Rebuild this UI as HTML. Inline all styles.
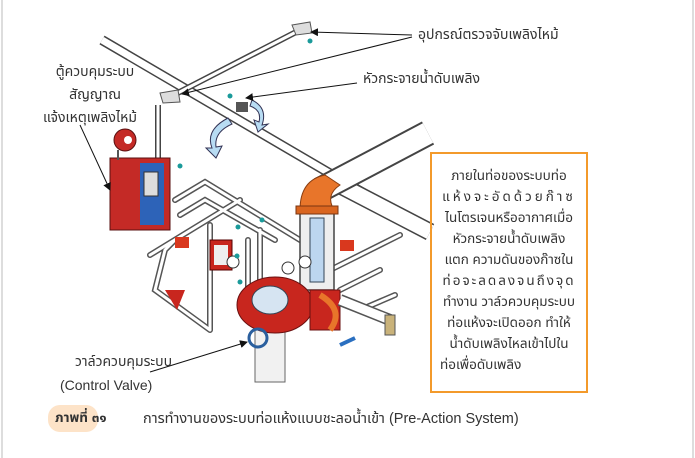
<!DOCTYPE html>
<html><head><meta charset="utf-8"><style>
html,body{margin:0;padding:0;background:#fff}
body{width:695px;height:458px;position:relative;overflow:hidden;font-family:"Liberation Sans","Noto Sans Thai","Loma","Garuda","Norasi","Noto Sans CJK SC",sans-serif}
.t{position:absolute;color:#333;font-size:14px;white-space:nowrap;line-height:1}
.box{position:absolute;left:430px;top:152px;width:158px;height:241px;border:2px solid #f39a2b;box-sizing:border-box}
.box div{position:absolute;left:0;width:154px;text-align:center;font-size:13.5px;color:#333;white-space:nowrap}
</style></head><body>
<div style="position:absolute;left:1px;top:0;width:2px;height:458px;background:#ddd"></div>
<div style="position:absolute;left:692px;top:0;width:2px;height:458px;background:#ddd"></div>
<svg width="695" height="458" style="position:absolute;left:0;top:0">
<defs><marker id="a" markerWidth="8" markerHeight="8" refX="7" refY="4" orient="auto"><path d="M0,0 L8,4 L0,8z" fill="#111"/></marker></defs>
<g fill="none">
<line x1="102" y1="40" x2="430" y2="232" stroke="#444" stroke-width="10" stroke-linecap="butt"/>
<line x1="102" y1="40" x2="430" y2="232" stroke="#fff" stroke-width="7"/>
<line x1="330" y1="180" x2="430" y2="232" stroke="#444" stroke-width="18"/>
<line x1="330" y1="180" x2="430" y2="232" stroke="#fff" stroke-width="15"/>
<line x1="168" y1="98" x2="300" y2="30" stroke="#444" stroke-width="6" stroke-linecap="round"/>
<line x1="168" y1="98" x2="300" y2="30" stroke="#fff" stroke-width="3"/>
<line x1="158" y1="105" x2="158" y2="165" stroke="#444" stroke-width="6"/>
<line x1="158" y1="105" x2="158" y2="165" stroke="#fff" stroke-width="3"/>
<line x1="320" y1="190" x2="428" y2="133" stroke="#444" stroke-width="26"/>
<line x1="320" y1="190" x2="428" y2="133" stroke="#fff" stroke-width="22"/>
<path d="M175,200 L205,182 L300,240 M180,215 L205,200 L275,240 M175,240 L165,250 L155,290 L210,330 M150,255 L240,200 M210,225 L210,330 M248,240 L248,290 M260,230 L260,290 M330,270 L400,235 M340,290 L380,270 M360,310 L395,295" stroke="#555" stroke-width="6" stroke-linecap="round"/>
<path d="M175,200 L205,182 L300,240 M180,215 L205,200 L275,240 M175,240 L165,250 L155,290 L210,330 M150,255 L240,200 M210,225 L210,330 M248,240 L248,290 M260,230 L260,290 M330,270 L400,235 M340,290 L380,270 M360,310 L395,295" stroke="#fff" stroke-width="3" stroke-linecap="round"/>
</g>
<rect x="300" y="210" width="34" height="80" fill="#eee" stroke="#444" stroke-width="1.5"/>
<rect x="310" y="218" width="14" height="64" fill="#bcd6ef" stroke="#345" stroke-width="1"/>
<path d="M300,210 Q300,180 325,175 L340,185 Q325,195 334,210 z" fill="#e8752a" stroke="#8a3d10"/>
<rect x="296" y="206" width="42" height="8" fill="#d9651f" stroke="#7a3510"/>
<rect x="255" y="330" width="30" height="52" fill="#f1f1f1" stroke="#666"/>
<ellipse cx="275" cy="305" rx="38" ry="28" fill="#c8261e" stroke="#6a1010"/>
<ellipse cx="270" cy="300" rx="18" ry="14" fill="#d6e4f2" stroke="#345"/>
<rect x="310" y="290" width="30" height="40" fill="#c8261e" stroke="#6a1010"/>
<path d="M320,295 Q345,310 330,330" stroke="#e8752a" stroke-width="6" fill="none"/>
<circle cx="258" cy="338" r="9" fill="none" stroke="#2a5f9e" stroke-width="3"/>
<line x1="340" y1="300" x2="390" y2="320" stroke="#555" stroke-width="12"/>
<line x1="340" y1="300" x2="390" y2="320" stroke="#fff" stroke-width="9"/>
<rect x="385" y="315" width="10" height="20" fill="#c9b27a" stroke="#555"/>
<line x1="340" y1="345" x2="355" y2="338" stroke="#2a6fc0" stroke-width="4"/>
<rect x="210" y="240" width="22" height="30" fill="#c8261e" stroke="#500"/>
<rect x="214" y="245" width="14" height="20" fill="#eee"/>
<rect x="175" y="237" width="14" height="11" fill="#d9381e"/>
<rect x="340" y="240" width="14" height="11" fill="#d9381e"/>
<path d="M165,290 L185,290 L177,310 z" fill="#c8261e"/>
<circle cx="233" cy="262" r="6" fill="#fff" stroke="#333"/>
<circle cx="288" cy="268" r="6" fill="#fff" stroke="#333"/>
<circle cx="305" cy="262" r="6" fill="#fff" stroke="#333"/>
<rect x="110" y="158" width="60" height="72" fill="#c42a26" stroke="#5a1010"/>
<rect x="140" y="163" width="24" height="62" fill="#2d63b8"/>
<rect x="144" y="172" width="14" height="24" fill="#ddd" stroke="#333"/>
<circle cx="125" cy="140" r="11" fill="#c42a26" stroke="#5a1010"/>
<circle cx="128" cy="140" r="4" fill="#fff"/>
<line x1="118" y1="150" x2="118" y2="160" stroke="#555" stroke-width="2"/>
<path d="M292,25 L310,22 L312,33 L296,35 z" fill="#ddd" stroke="#555"/>
<path d="M160,93 L178,90 L180,102 L163,103 z" fill="#ddd" stroke="#555"/>
<rect x="236" y="102" width="12" height="10" fill="#555"/>
<path d="M228,118 Q205,130 212,148 L206,148 L216,158 L222,146 L216,147 Q214,132 232,124 z" fill="#b8dcf3" stroke="#335"/>
<path d="M252,100 Q268,108 262,125 L268,124 L258,132 L254,120 L259,122 Q262,110 250,106 z" fill="#b8dcf3" stroke="#335"/>
<g fill="#1a9a9a"><circle cx="310" cy="41" r="2.5"/><circle cx="230" cy="96" r="2.5"/><circle cx="180" cy="166" r="2.5"/><circle cx="238" cy="227" r="2.5"/><circle cx="262" cy="220" r="2.5"/><circle cx="240" cy="282" r="2.5"/><circle cx="237" cy="256" r="2.5"/></g>
<g stroke="#111" stroke-width="1" fill="none">
<line x1="412" y1="35" x2="311" y2="32" marker-end="url(#a)"/>
<line x1="412" y1="37" x2="182" y2="94" marker-end="url(#a)"/>
<line x1="357" y1="83" x2="246" y2="98" marker-end="url(#a)"/>
<line x1="80" y1="125" x2="110" y2="190" marker-end="url(#a)"/>
<line x1="150" y1="372" x2="247" y2="342" marker-end="url(#a)"/>
</g>
</svg>
<div class="t" style="left:418px;top:27px">อุปกรณ์ตรวจจับเพลิงไหม้</div>
<div class="t" style="left:363px;top:71px">หัวกระจายน้ำดับเพลิง</div>
<div class="t" style="left:43px;top:64px;width:104px;text-align:center">ตู้ควบคุมระบบ</div>
<div class="t" style="left:43px;top:87px;width:104px;text-align:center">สัญญาณ</div>
<div class="t" style="left:43px;top:110px">แจ้งเหตุเพลิงไหม้</div>
<div class="t" style="left:75px;top:354px">วาล์วควบคุมระบบ</div>
<div class="t" style="left:60px;top:378px">(Control Valve)</div>
<div class="box">
<div style="top:13px">ภายในท่อของระบบท่อ</div>
<div style="top:34px;letter-spacing:3px">แห้งจะอัดด้วยก๊าซ</div>
<div style="top:55px">ไนโตรเจนหรืออากาศเมื่อ</div>
<div style="top:76px">หัวกระจายน้ำดับเพลิง</div>
<div style="top:97px">แตก ความดันของก๊าซใน</div>
<div style="top:118px;letter-spacing:2px">ท่อจะลดลงจนถึงจุด</div>
<div style="top:139px">ทำงาน วาล์วควบคุมระบบ</div>
<div style="top:160px">ท่อแห้งจะเปิดออก ทำให้</div>
<div style="top:181px">น้ำดับเพลิงไหลเข้าไปใน</div>
<div style="top:202px;text-align:left;left:8px">ท่อเพื่อดับเพลิง</div>
</div>
<div style="position:absolute;left:48px;top:405px;width:50px;height:27px;border-radius:12px;background:#fde3c8"></div>
<div class="t" style="left:55px;top:411px;font-weight:bold;font-size:13.5px">ภาพที่ ๓๑</div>
<div class="t" style="left:143px;top:412px;font-size:14.5px">การทำงานของระบบท่อแห้งแบบชะลอน้ำเข้า (Pre-Action System)</div>
</body></html>
